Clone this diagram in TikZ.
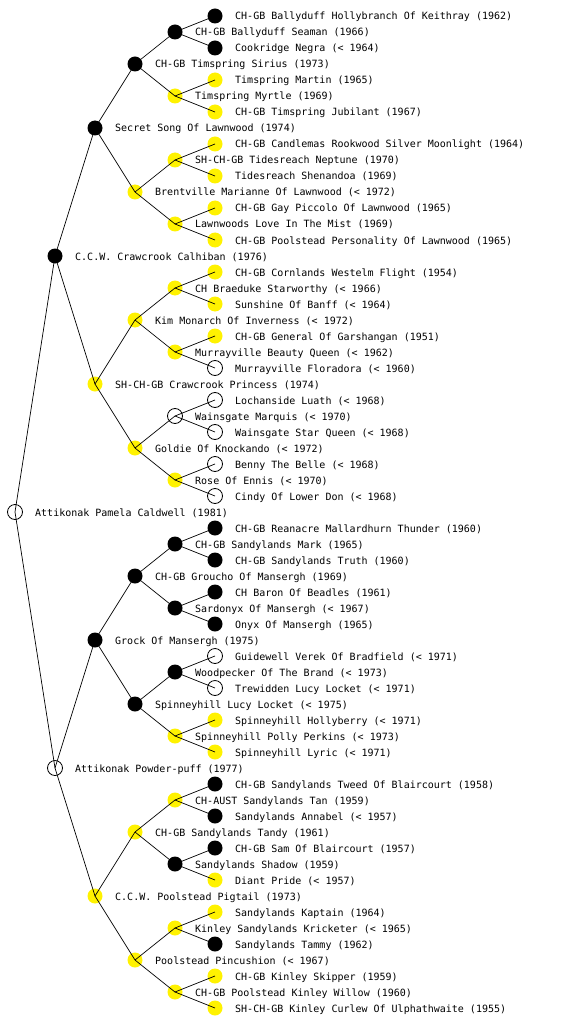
\documentclass[tikz,border=0pt]{standalone}
\usepackage{fontspec}
\setmonofont{DejaVu Sans Mono}
\tikzset{
    dog/.style={circle, minimum size=15pt, inner sep=0pt},
    blk/.style={dog, fill=black},
    ylw/.style={dog, fill=yellow},
    opn/.style={dog, draw=black, fill=white, line width=0.8pt},
    lbl/.style={anchor=base west, inner sep=0pt, font=\ttfamily\fontsize{10}{12}\selectfont},
    edge/.style={line width=0.7pt}
}
\begin{document}
\begin{tikzpicture}[x=1pt, y=-1pt]
        \useasboundingbox (0,0) rectangle (560,1024);

        % -- generation 0 and 1 --------------------------------------------------
        \foreach \id/\x/\y/\st/\txt in {
            r/15/512/opn/Attikonak Pamela Caldwell (1981),
            r0/55/256/blk/C.C.W. Crawcrook Calhiban (1976),
            r1/55/768/opn/Attikonak Powder-puff (1977)} {
            \node[\st] (\id) at (\x,\y) {};
            \node[lbl] (t\id) at (\x+20,\y+4) {\txt};
        }

        % -- generation 2 --------------------------------------------------------
        \foreach \id/\y/\st/\txt in {
            r00/128/blk/Secret Song Of Lawnwood (1974),
            r01/384/ylw/SH-CH-GB Crawcrook Princess (1974),
            r10/640/blk/Grock Of Mansergh (1975),
            r11/896/ylw/C.C.W. Poolstead Pigtail (1973)} {
            \node[\st] (\id) at (95,\y) {};
            \node[lbl] (t\id) at (115,\y+4) {\txt};
        }

        % -- generation 3 --------------------------------------------------------
        \foreach \id/\y/\st/\txt in {
            r000/64/blk/CH-GB Timspring Sirius (1973),
            r001/192/ylw/Brentville Marianne Of Lawnwood (< 1972),
            r010/320/ylw/Kim Monarch Of Inverness (< 1972),
            r011/448/ylw/Goldie Of Knockando (< 1972),
            r100/576/blk/CH-GB Groucho Of Mansergh (1969),
            r101/704/blk/Spinneyhill Lucy Locket (< 1975),
            r110/832/ylw/CH-GB Sandylands Tandy (1961),
            r111/960/ylw/Poolstead Pincushion (< 1967)} {
            \node[\st] (\id) at (135,\y) {};
            \node[lbl] (t\id) at (155,\y+4) {\txt};
        }

        % -- generation 4 --------------------------------------------------------
        \foreach \id/\y/\st/\txt in {
            r0000/32/blk/CH-GB Ballyduff Seaman (1966),
            r0001/96/ylw/Timspring Myrtle (1969),
            r0010/160/ylw/SH-CH-GB Tidesreach Neptune (1970),
            r0011/224/ylw/Lawnwoods Love In The Mist (1969),
            r0100/288/ylw/CH Braeduke Starworthy (< 1966),
            r0101/352/ylw/Murrayville Beauty Queen (< 1962),
            r0110/416/opn/Wainsgate Marquis (< 1970),
            r0111/480/ylw/Rose Of Ennis (< 1970),
            r1000/544/blk/CH-GB Sandylands Mark (1965),
            r1001/608/blk/Sardonyx Of Mansergh (< 1967),
            r1010/672/blk/Woodpecker Of The Brand (< 1973),
            r1011/736/ylw/Spinneyhill Polly Perkins (< 1973),
            r1100/800/ylw/CH-AUST Sandylands Tan (1959),
            r1101/864/blk/Sandylands Shadow (1959),
            r1110/928/ylw/Kinley Sandylands Kricketer (< 1965),
            r1111/992/ylw/CH-GB Poolstead Kinley Willow (1960)} {
            \node[\st] (\id) at (175,\y) {};
            \node[lbl] (t\id) at (195,\y+4) {\txt};
        }

        % -- generation 5 --------------------------------------------------------
        \foreach \id/\y/\st/\txt in {
            r00000/16/blk/CH-GB Ballyduff Hollybranch Of Keithray (1962),
            r00001/48/blk/Cookridge Negra (< 1964),
            r00010/80/ylw/Timspring Martin (1965),
            r00011/112/ylw/CH-GB Timspring Jubilant (1967),
            r00100/144/ylw/CH-GB Candlemas Rookwood Silver Moonlight (1964),
            r00101/176/ylw/Tidesreach Shenandoa (1969),
            r00110/208/ylw/CH-GB Gay Piccolo Of Lawnwood (1965),
            r00111/240/ylw/CH-GB Poolstead Personality Of Lawnwood (1965),
            r01000/272/ylw/CH-GB Cornlands Westelm Flight (1954),
            r01001/304/ylw/Sunshine Of Banff (< 1964),
            r01010/336/ylw/CH-GB General Of Garshangan (1951),
            r01011/368/opn/Murrayville Floradora (< 1960),
            r01100/400/opn/Lochanside Luath (< 1968),
            r01101/432/opn/Wainsgate Star Queen (< 1968),
            r01110/464/opn/Benny The Belle (< 1968),
            r01111/496/opn/Cindy Of Lower Don (< 1968),
            r10000/528/blk/CH-GB Reanacre Mallardhurn Thunder (1960),
            r10001/560/blk/CH-GB Sandylands Truth (1960),
            r10010/592/blk/CH Baron Of Beadles (1961),
            r10011/624/blk/Onyx Of Mansergh (1965),
            r10100/656/opn/Guidewell Verek Of Bradfield (< 1971),
            r10101/688/opn/Trewidden Lucy Locket (< 1971),
            r10110/720/ylw/Spinneyhill Hollyberry (< 1971),
            r10111/752/ylw/Spinneyhill Lyric (< 1971),
            r11000/784/blk/CH-GB Sandylands Tweed Of Blaircourt (1958),
            r11001/816/blk/Sandylands Annabel (< 1957),
            r11010/848/blk/CH-GB Sam Of Blaircourt (1957),
            r11011/880/ylw/Diant Pride (< 1957),
            r11100/912/ylw/Sandylands Kaptain (1964),
            r11101/944/blk/Sandylands Tammy (1962),
            r11110/976/ylw/CH-GB Kinley Skipper (1959),
            r11111/1008/ylw/SH-CH-GB Kinley Curlew Of Ulphathwaite (1955)} {
            \node[\st] (\id) at (215,\y) {};
            \node[lbl] (t\id) at (235,\y+4) {\txt};
        }

        % -- parent to sire (0) and dam (1) --------------------------------------
        \foreach \p in {r, r0, r1, r00, r01, r10, r11,
            r000, r001, r010, r011, r100, r101, r110, r111,
            r0000, r0001, r0010, r0011, r0100, r0101, r0110, r0111,
            r1000, r1001, r1010, r1011, r1100, r1101, r1110, r1111} {
            \draw[edge] (\p.center) -- (\p0.center);
            \draw[edge] (\p.center) -- (\p1.center);
        }
    \end{tikzpicture}
\end{document}
